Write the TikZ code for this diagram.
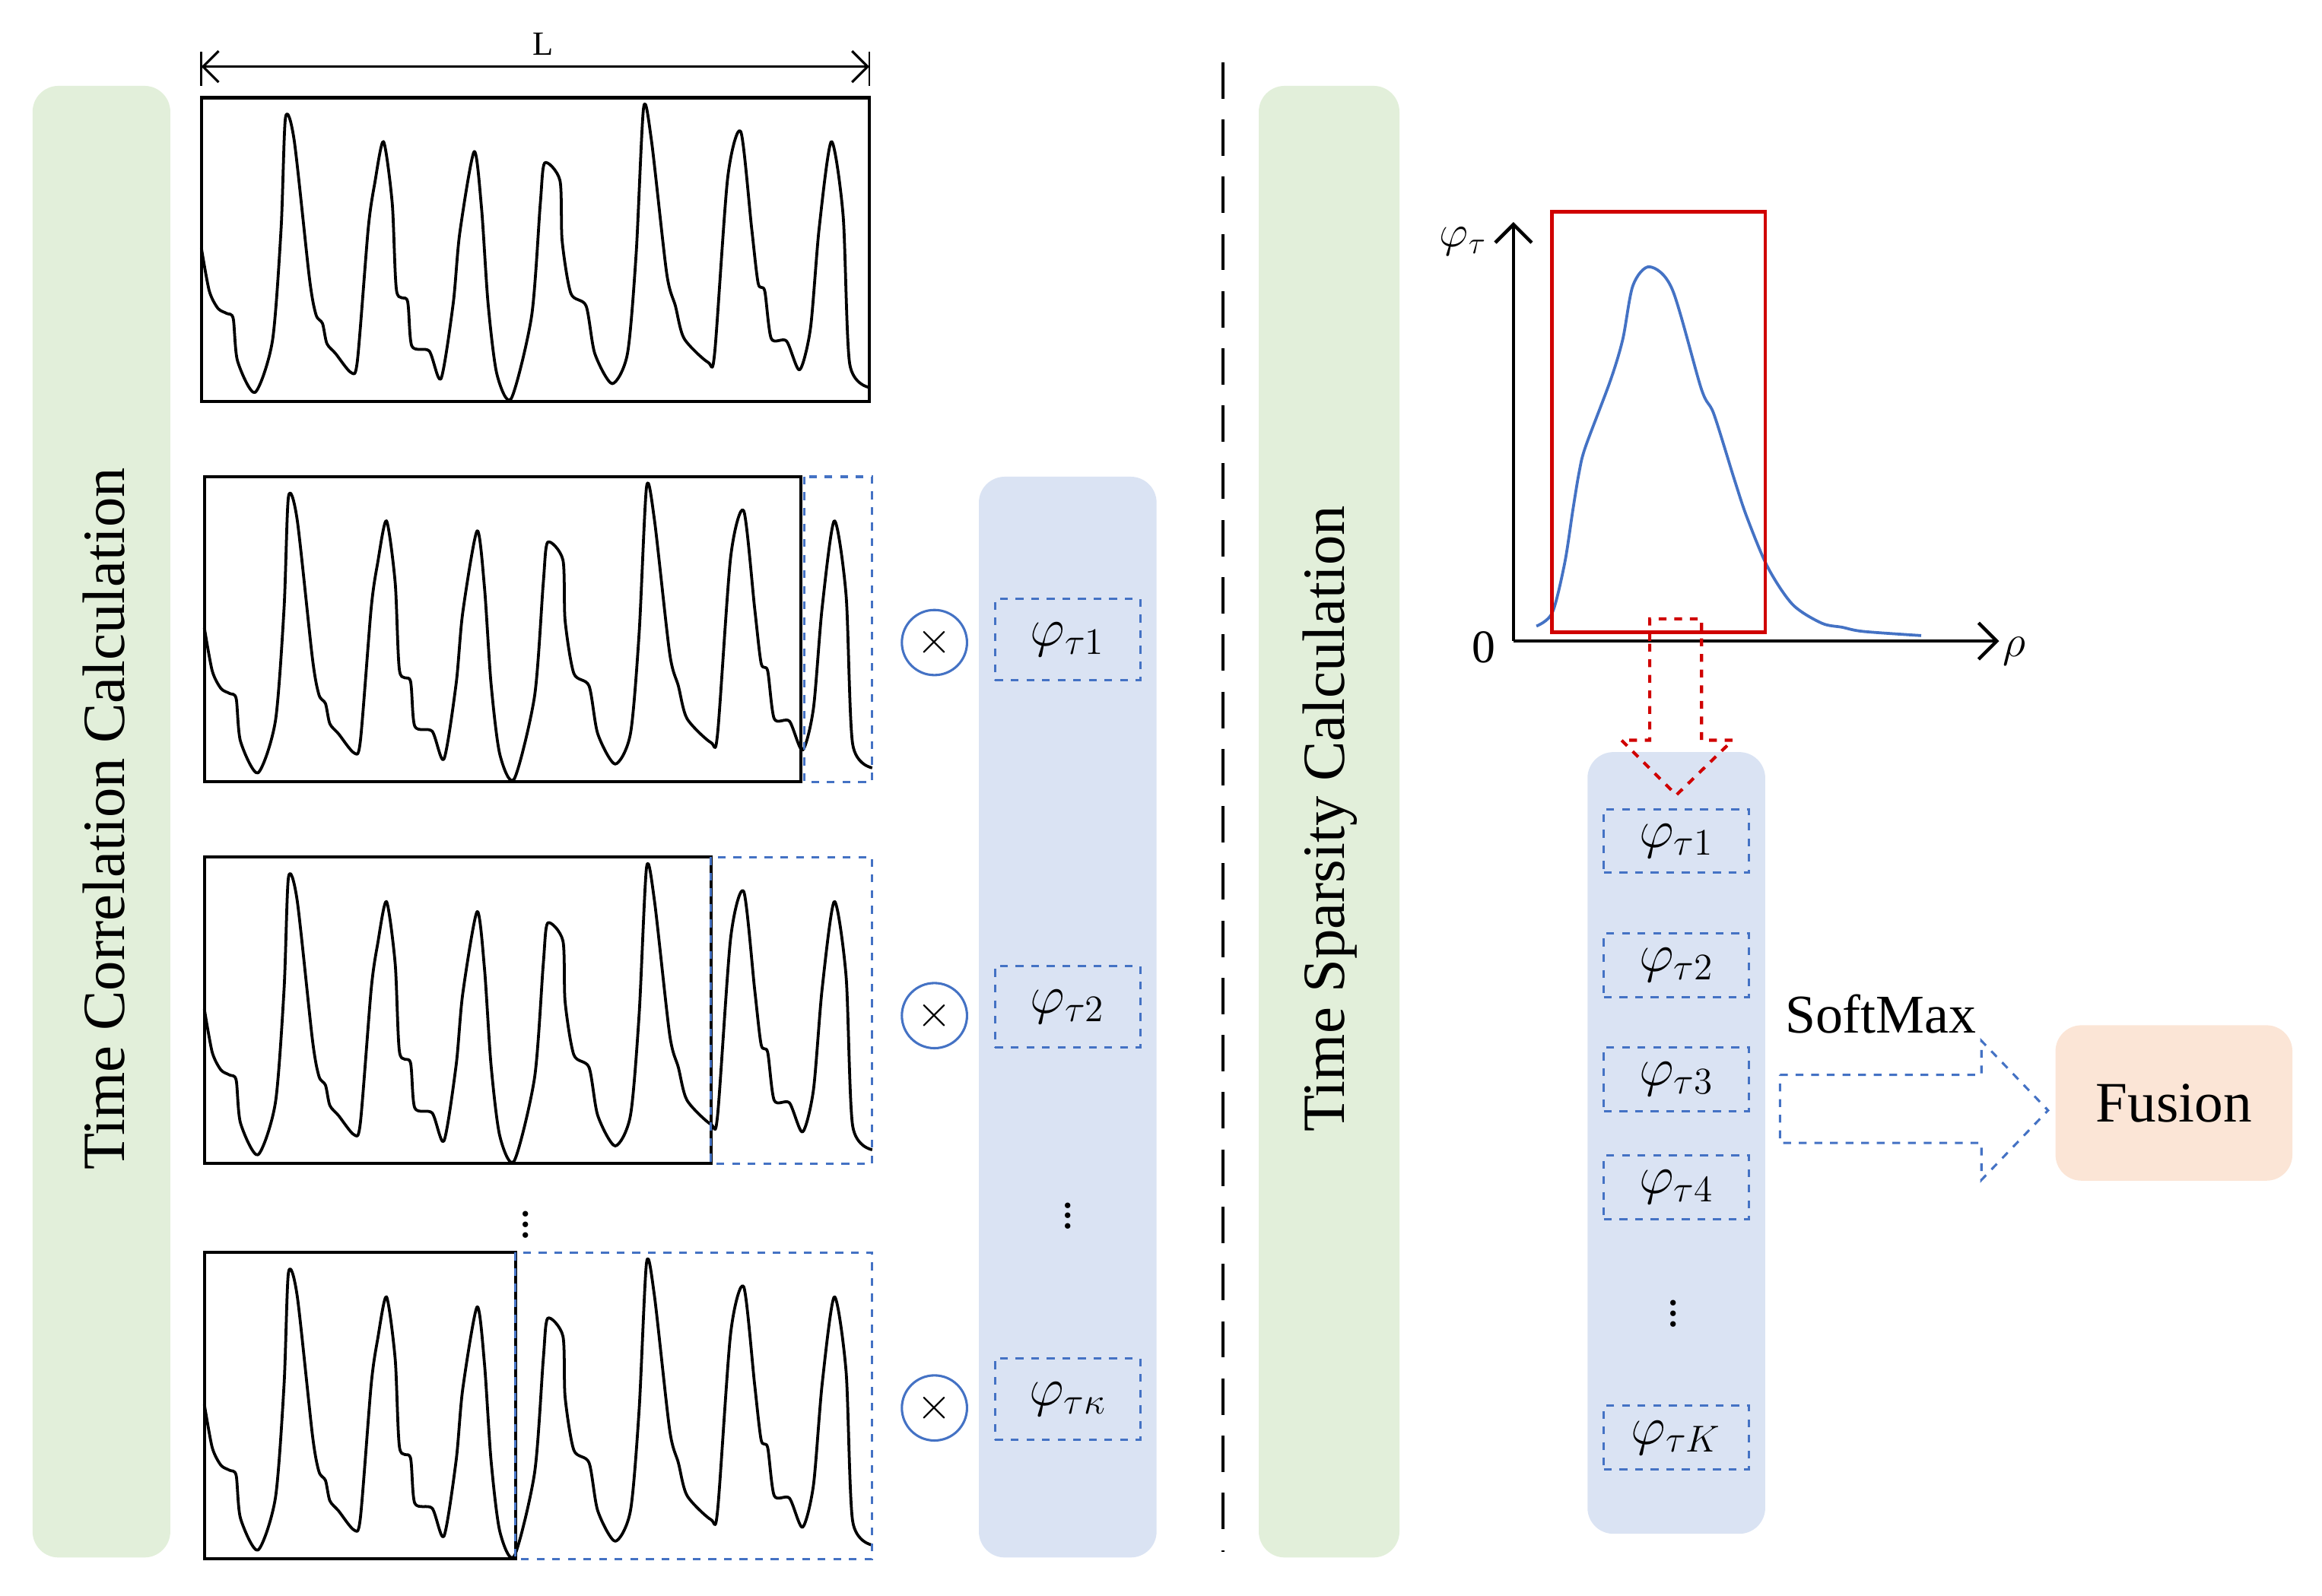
\documentclass[tikz,border=0pt]{standalone}
\usepackage{fontspec}
\setmainfont{Liberation Serif}
\usetikzlibrary{arrows.meta,calc}
\definecolor{pgreen}{HTML}{E2EFDA}
\definecolor{pblue}{HTML}{DAE3F3}
\definecolor{dblue}{HTML}{4472C4}
\definecolor{ppeach}{HTML}{FBE5D6}
\definecolor{dred}{HTML}{D00000}
\newcommand\mywave{\draw[wave] plot[smooth,tension=0.45] coordinates{(22,680) (40,850) (60,920) (80,940) (95,960) (105,1130) (145,1255) (185,1050) (205,600) (215,160) (235,250) (270,800) (285,945) (300,980) (310,1060) (330,1100) (365,1175) (380,1130) (405,600) (420,420) (440,255) (460,500) (470,850) (495,890) (505,1070) (545,1090) (572,1200) (600,900) (615,620) (648,295) (665,520) (680,900) (700,1180) (733,1280) (780,950) (800,500) (810,340) (845,410) (850,650) (870,860) (905,910) (925,1100) (965,1220) (1000,1100) (1020,700) (1037,120) (1055,250) (1090,780) (1110,910) (1130,1040) (1185,1135) (1200,1100) (1230,400) (1260,215) (1285,600) (1300,820) (1315,850) (1330,1040) (1365,1050) (1395,1165) (1420,1000) (1440,600) (1468,255) (1495,550) (1510,1140) (1555,1235)};}
\tikzset{
  wave/.style={line width=1.1pt, black, line join=round},
  bbox/.style={draw=black, line width=1.2pt},
  dbox/.style={draw=dblue, dashed, line width=0.9pt},
  tau/.style={draw=dblue, dashed, line width=0.9pt, minimum width=1.96cm, minimum height=1.1cm, inner sep=0pt, font=\fontsize{22}{24}\selectfont},
  otimes/.style={circle, draw=dblue, line width=0.9pt, minimum size=0.88cm, inner sep=0pt, font=\fontsize{18}{20}\selectfont},
  vdots/.style={font=\fontsize{18}{20}\selectfont, inner sep=0pt},
}
\begin{document}
\begin{tikzpicture}[x=0.02cm,y=-0.02cm]
\useasboundingbox (0,0) rectangle (1568,1078);
% green panels
\fill[pgreen, rounded corners=0.35cm] (22,58) rectangle (115,1052);
\node[rotate=90, font=\fontsize{23}{26}\selectfont] (tcc) at (70,553) {Time Correlation Calculation};
\fill[pgreen, rounded corners=0.35cm] (850,58) rectangle (945,1052);
\node[rotate=90, font=\fontsize{23}{26}\selectfont] (tsc) at (898,553) {Time Sparsity Calculation};
% divider
\draw[line width=1.2pt, dash pattern=on 14pt off 8pt] (826,42) -- (826,1048);
% L dimension
\coordinate (la) at (136,45); \coordinate (lb) at (587,45);
\draw[line width=0.8pt] (136,35) -- (136,58) (587,35) -- (587,58);
\draw[{Straight Barb[length=6pt]}-{Straight Barb[length=6pt]}, line width=0.9pt] (la) -- (lb);
\node[font=\fontsize{13}{15}\selectfont] (L) at (367,30) {L};
% row 1
\begin{scope}[shift={(136,66)},xscale=451/1533,yscale=205/1210,shift={(-22,-80)}]\mywave\end{scope}
\draw[bbox] (136,66) rectangle (587,271);
% row 2
\begin{scope}[shift={(138,322)},xscale=451/1533,yscale=206/1210,shift={(-22,-80)}]\mywave\end{scope}
\draw[bbox] (138,322) rectangle (541,528);
\draw[dbox] (543,322) rectangle (589,528);
% row 3
\begin{scope}[shift={(138,579)},xscale=451/1533,yscale=207/1210,shift={(-22,-80)}]\mywave\end{scope}
\draw[bbox] (138,579) rectangle (480,786);
\draw[dbox] (480,579) rectangle (589,786);
\node[vdots] (d1) at (355,822) {$\vdots$};
% row 4
\begin{scope}[shift={(138,846)},xscale=451/1533,yscale=207/1210,shift={(-22,-80)}]\mywave\end{scope}
\draw[bbox] (138,846) rectangle (348,1053);
\draw[dbox] (348,846) rectangle (589,1053);
% otimes
\node[otimes] (m1) at (631,434) {$\times$};
\node[otimes] (m2) at (631,686) {$\times$};
\node[otimes] (m3) at (631,951) {$\times$};
% blue column 1
\fill[pblue, rounded corners=0.35cm] (661,322) rectangle (781,1052);
\node[tau] (a1) at (721,432) {$\varphi_{\tau 1}$};
\node[tau] (a2) at (721,680) {$\varphi_{\tau 2}$};
\node[vdots] (d2) at (721,816) {$\vdots$};
\node[tau] (a3) at (721,945) {$\varphi_{\tau \kappa}$};
% plot
\coordinate (o) at (1022,433);
\draw[-{Straight Barb[length=7pt]}, line width=1.3pt] (o) -- (1022,150);
\draw[-{Straight Barb[length=7pt]}, line width=1.3pt] (o) -- (1350,433);
\node[font=\fontsize{18}{20}\selectfont] (ylab) at (988,163) {$\varphi_\tau$};
\node[font=\fontsize{18}{20}\selectfont] (zero) at (1002,437) {0};
\node[font=\fontsize{18}{20}\selectfont] (xlab) at (1360,440) {$\rho$};
\draw[dblue, line width=1.1pt] plot[smooth, tension=0.5] coordinates{(1037.5,422.9) (1048.2,413.9) (1056.6,380.3) (1062.2,343.9) (1066.4,318.7) (1070.6,301.9) (1087.4,257.2) (1095.8,229.2) (1102.7,192.8) (1113.9,180.2) (1129.3,195.6) (1148.9,262.8) (1157.3,279.6) (1171.3,324.3) (1179.7,349.5) (1193.7,383.1) (1210.5,408.3) (1230.1,420.9) (1244.1,423.7) (1258.1,426.5) (1297.3,429.3)};
\draw[dred, line width=1.3pt] (1048,143) rectangle (1192,427);
% blue column 2
\fill[pblue, rounded corners=0.35cm] (1072,508) rectangle (1192,1036);
\draw[dred, dashed, line width=1.2pt] (1114,433) -- (1114,418) -- (1149,418) -- (1149,500) -- (1170,500) -- (1132,537) -- (1095,500) -- (1114,500) -- (1114,433);
\node[tau, minimum height=0.86cm] (b1) at (1132,568) {$\varphi_{\tau 1}$};
\node[tau, minimum height=0.86cm] (b2) at (1132,652) {$\varphi_{\tau 2}$};
\node[tau, minimum height=0.86cm] (b3) at (1132,729) {$\varphi_{\tau 3}$};
\node[tau, minimum height=0.86cm] (b4) at (1132,802) {$\varphi_{\tau 4}$};
\node[vdots] (d3) at (1130,882) {$\vdots$};
\node[tau, minimum height=0.86cm] (b5) at (1132,971) {$\varphi_{\tau K}$};
% softmax arrow
\node[font=\fontsize{21}{23}\selectfont] (sm) at (1270,685) {SoftMax};
\node[fill=ppeach, rounded corners=0.35cm, minimum width=3.2cm, minimum height=2.1cm, font=\fontsize{22}{24}\selectfont] (fus) at (1468,745) {Fusion};
\draw[dblue, dashed, line width=0.9pt] (1202,726) -- (1338,726) -- (1338,703) -- (1383,750) -- (1338,797) -- (1338,772) -- (1202,772) -- cycle;
\end{tikzpicture}
\end{document}
